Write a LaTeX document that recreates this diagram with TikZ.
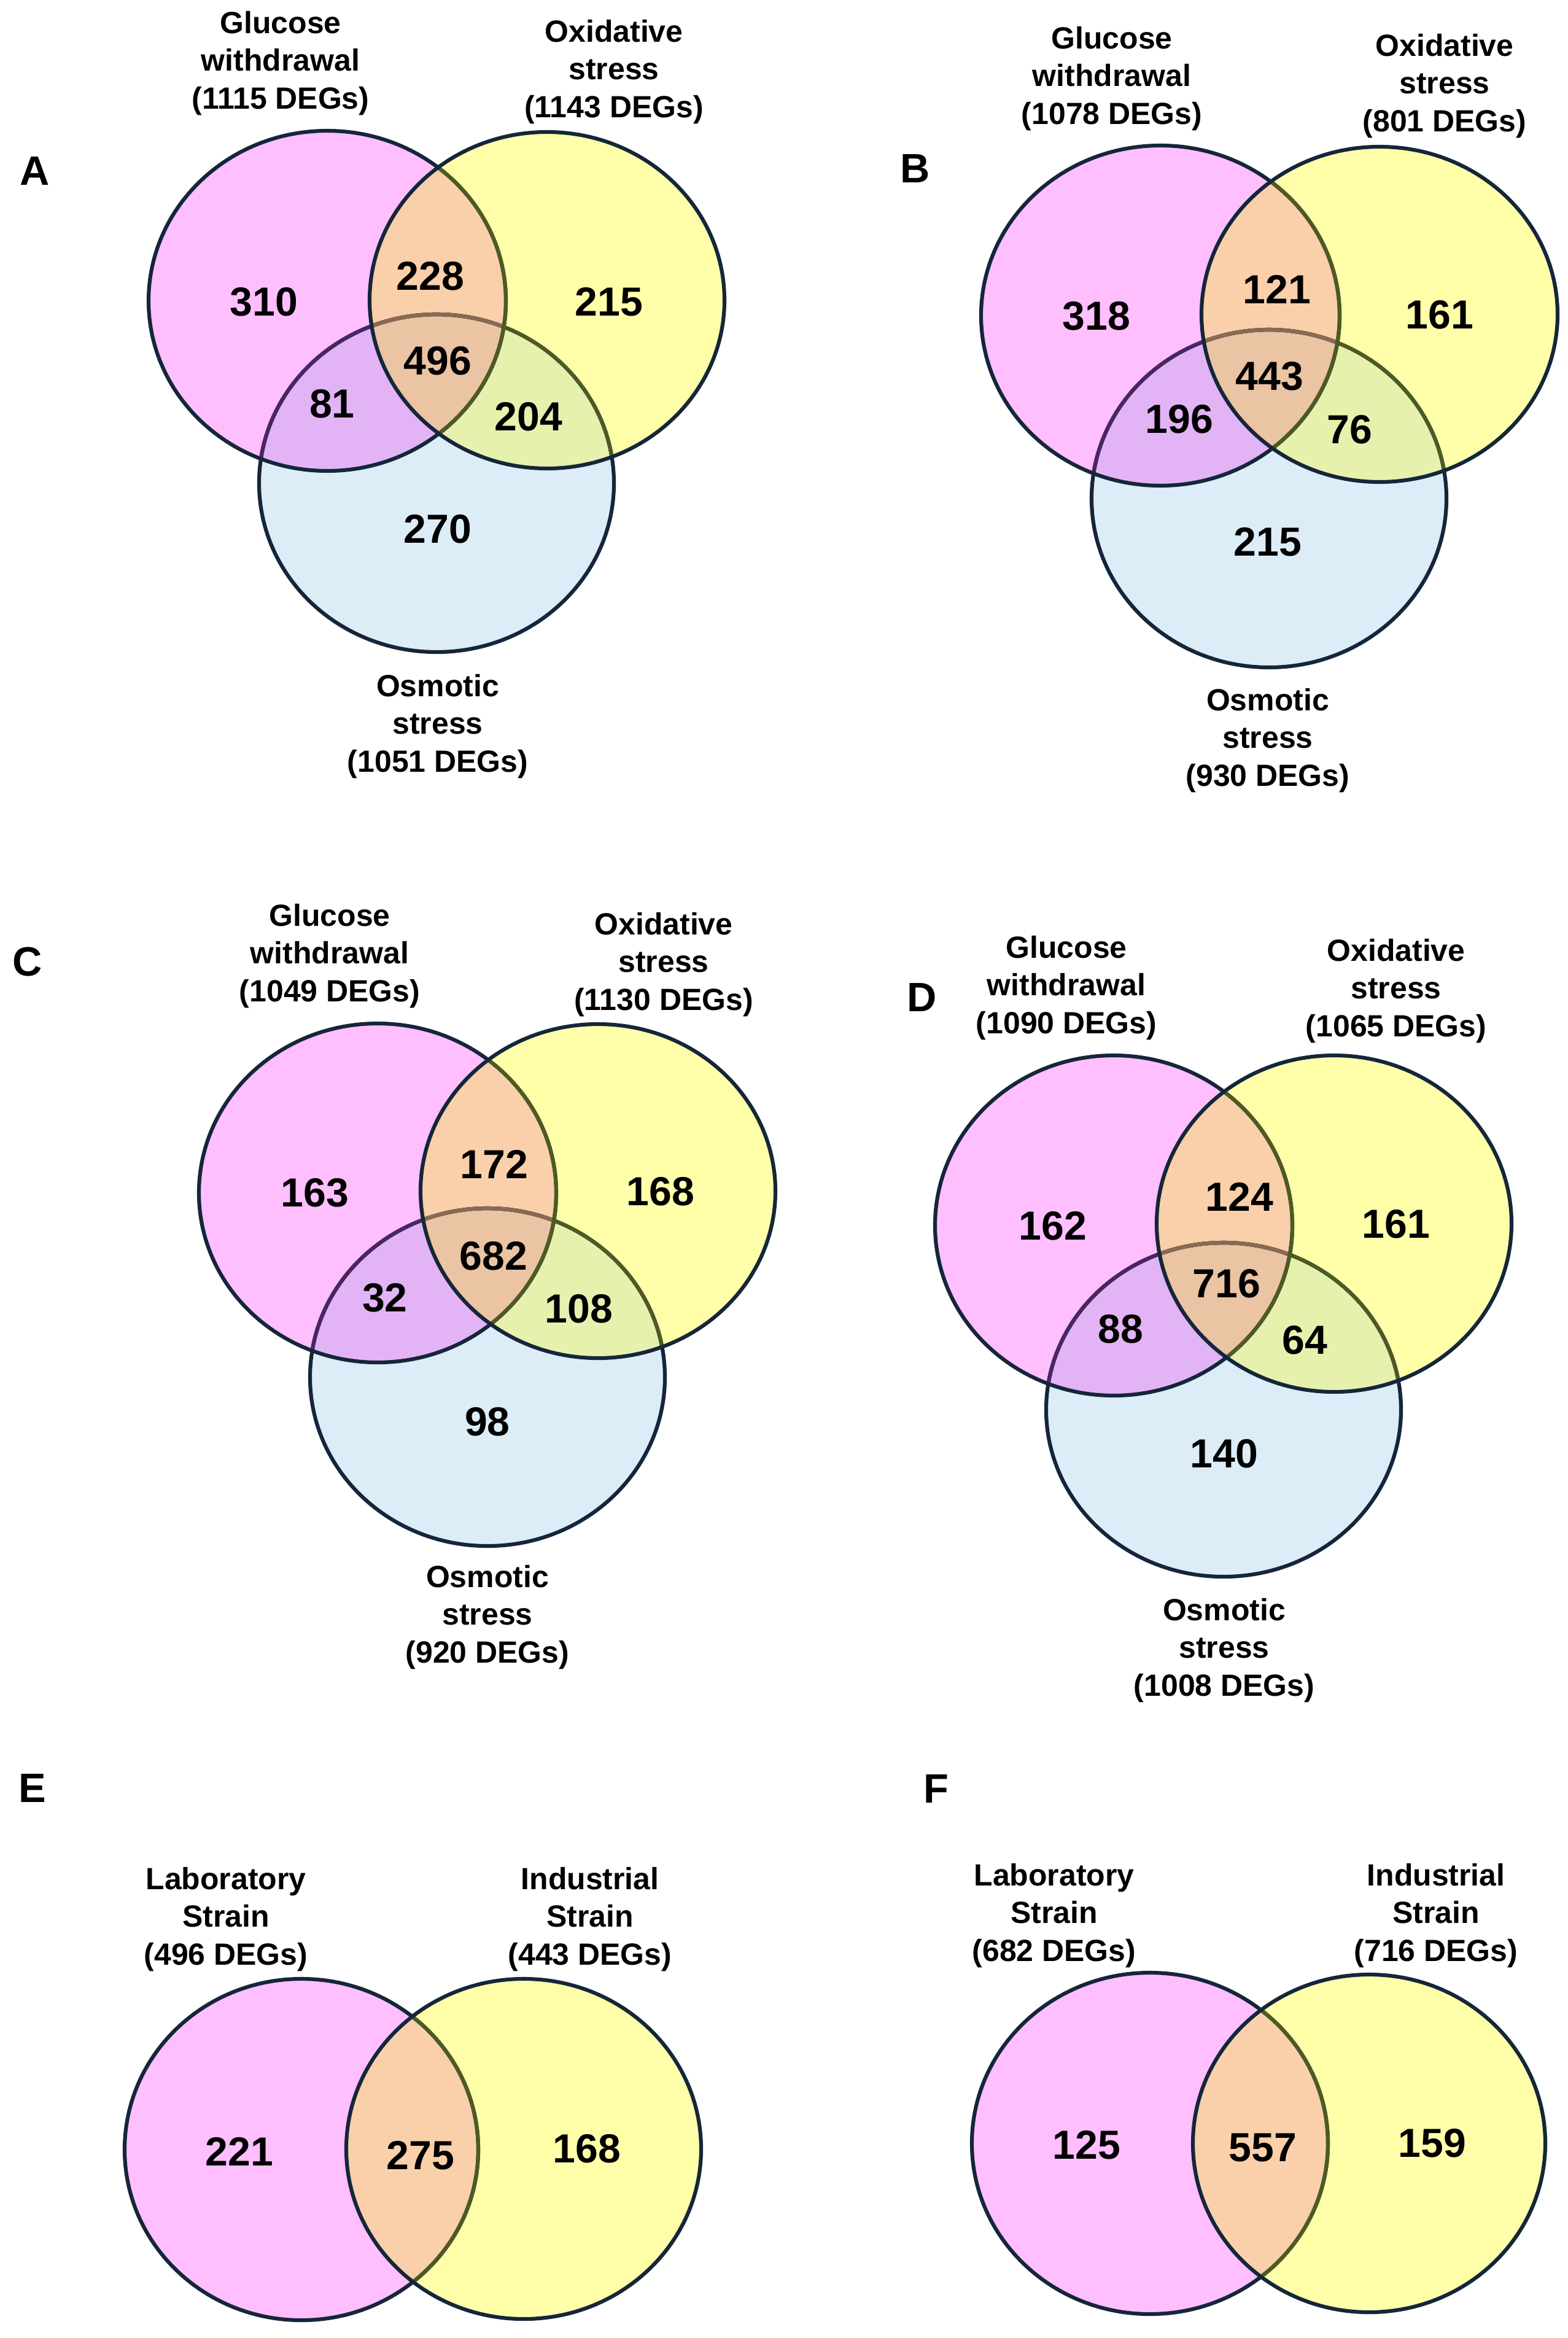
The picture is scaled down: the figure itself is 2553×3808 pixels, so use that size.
\documentclass[tikz,border=0pt]{standalone}
\usepackage{fontspec}
\setmainfont{Liberation Sans}
\definecolor{vpink}{HTML}{FFBFFF}
\definecolor{vyellow}{HTML}{FFFFAA}
\definecolor{vblue}{HTML}{DCEDF8}
\definecolor{vpy}{HTML}{F9D0AA}
\definecolor{vpb}{HTML}{E2B4F5}
\definecolor{vyb}{HTML}{E6F1AE}
\definecolor{vpyb}{HTML}{EBC4A4}
\definecolor{lnnavy}{HTML}{15263A}
\definecolor{lnolive}{HTML}{4E5A24}
\definecolor{lnpurple}{HTML}{4A2565}
\definecolor{lnbrown}{HTML}{8A6A55}
\tikzset{
  lab/.style={font=\bfseries\fontsize{14.2}{17.4}\selectfont, align=center, inner sep=0pt},
  num/.style={font=\bfseries\fontsize{18.8}{20}\selectfont, inner sep=0pt},
  panel/.style={font=\bfseries\fontsize{19}{20}\selectfont, inner sep=0pt},
  vline/.style={draw=lnnavy, line width=1.75pt},
}
% #1 pink, #2 yellow, #3 blue
\newcommand{\vennthree}[3]{%
  \fill[vblue] #3; \fill[vpink] #1; \fill[vyellow] #2;
  \begin{scope}\clip #1; \fill[vpy] #2; \end{scope}
  \begin{scope}\clip #1; \fill[vpb] #3; \end{scope}
  \begin{scope}\clip #2; \fill[vyb] #3; \end{scope}
  \begin{scope}\clip #1; \clip #2; \fill[vpyb] #3; \end{scope}
  \draw[vline] #3;
  \begin{scope}\clip #1; \draw[vline, draw=lnpurple] #3; \end{scope}
  \begin{scope}\clip #2; \draw[vline, draw=lnolive] #3; \end{scope}
  \begin{scope}\clip #1; \clip #2; \draw[vline, draw=lnbrown] #3; \end{scope}
  \draw[vline] #1;
  \begin{scope}\clip #2; \draw[vline, draw=lnolive] #1; \end{scope}
  \draw[vline] #2;
}
\newcommand{\venntwo}[2]{%
  \fill[vpink] #1; \fill[vyellow] #2;
  \begin{scope}\clip #1; \fill[vpy] #2; \end{scope}
  \draw[vline] #1;
  \begin{scope}\clip #2; \draw[vline, draw=lnolive] #1; \end{scope}
  \draw[vline] #2;
}
\begin{document}
\begin{tikzpicture}[x=0.01cm, y=-0.01cm]
\path[use as bounding box, fill=white] (0,0) rectangle (2553,3808);

% ---------- Panel A ----------
\vennthree{(533,490) ellipse [x radius=291, y radius=277]}
          {(891,489) ellipse [x radius=289, y radius=274]}
          {(711,787) ellipse [x radius=289, y radius=275]}
\node[panel] (pA) at (57,279) {A};
\node[lab] (gA) at (457,103) {Glucose\\withdrawal\\(1115 DEGs)};
\node[lab] (oA) at (1000,117) {Oxidative\\stress\\(1143 DEGs)};
\node[lab] (sA) at (713,1183) {Osmotic\\stress\\(1051 DEGs)};
\node[num] (a1) at (430,492) {310};
\node[num] (a2) at (701,450) {228};
\node[num] (a3) at (992,492) {215};
\node[num] (a4) at (713,588) {496};
\node[num] (a5) at (541,658) {81};
\node[num] (a6) at (861,679) {204};
\node[num] (a7) at (713,862) {270};

% ---------- Panel B ----------
\vennthree{(1890,514) ellipse [x radius=292, y radius=277]}
          {(2247,512) ellipse [x radius=290, y radius=273]}
          {(2067,812) ellipse [x radius=289, y radius=275]}
\node[panel] (pB) at (1491,275) {B};
\node[lab] (gB) at (1811,128) {Glucose\\withdrawal\\(1078 DEGs)};
\node[lab] (oB) at (2353,140) {Oxidative\\stress\\(801 DEGs)};
\node[lab] (sB) at (2065,1206) {Osmotic\\stress\\(930 DEGs)};
\node[num] (b1) at (1786,515) {318};
\node[num] (b2) at (2080,471) {121};
\node[num] (b3) at (2345,513) {161};
\node[num] (b4) at (2068,613) {443};
\node[num] (b5) at (1921,683) {196};
\node[num] (b6) at (2198,700) {76};
\node[num] (b7) at (2065,883) {215};

% ---------- Panel C ----------
\vennthree{(615,1943) ellipse [x radius=291, y radius=276]}
          {(974,1940) ellipse [x radius=289, y radius=272]}
          {(794,2243) ellipse [x radius=289, y radius=275]}
\node[panel] (pC) at (45,1566) {C};
\node[lab] (gC) at (537,1557) {Glucose\\withdrawal\\(1049 DEGs)};
\node[lab] (oC) at (1081,1571) {Oxidative\\stress\\(1130 DEGs)};
\node[lab] (sC) at (794,2634) {Osmotic\\stress\\(920 DEGs)};
\node[num] (c1) at (513,1943) {163};
\node[num] (c2) at (805,1896) {172};
\node[num] (c3) at (1076,1941) {168};
\node[num] (c4) at (804,2046) {682};
\node[num] (c5) at (627,2114) {32};
\node[num] (c6) at (943,2132) {108};
\node[num] (c7) at (794,2316) {98};

% ---------- Panel D ----------
\vennthree{(1814,1996) ellipse [x radius=291, y radius=277]}
          {(2173,1993) ellipse [x radius=289, y radius=274]}
          {(1993,2296) ellipse [x radius=289, y radius=272]}
\node[panel] (pD) at (1502,1624) {D};
\node[lab] (gD) at (1737,1609) {Glucose\\withdrawal\\(1090 DEGs)};
\node[lab] (oD) at (2274,1614) {Oxidative\\stress\\(1065 DEGs)};
\node[lab] (sD) at (1994,2688) {Osmotic\\stress\\(1008 DEGs)};
\node[num] (d1) at (1715,1997) {162};
\node[num] (d2) at (2019,1949) {124};
\node[num] (d3) at (2274,1994) {161};
\node[num] (d4) at (1998,2091) {716};
\node[num] (d5) at (1825,2165) {88};
\node[num] (d6) at (2125,2183) {64};
\node[num] (d7) at (1994,2368) {140};

% ---------- Panel E ----------
\venntwo{(491,3501) ellipse [x radius=288, y radius=278]}
        {(853,3500) ellipse [x radius=289, y radius=277]}
\node[panel] (pE) at (53,2912) {E};
\node[lab] (lE) at (368,3126) {Laboratory\\Strain\\(496 DEGs)};
\node[lab] (iE) at (961,3126) {Industrial\\Strain\\(443 DEGs)};
\node[num] (e1) at (390,3504) {221};
\node[num] (e2) at (685,3511) {275};
\node[num] (e3) at (956,3500) {168};

% ---------- Panel F ----------
\venntwo{(1873,3491) ellipse [x radius=290, y radius=278]}
        {(2230,3491) ellipse [x radius=287, y radius=275]}
\node[panel] (pF) at (1525,2913) {F};
\node[lab] (lF) at (1717,3120) {Laboratory\\Strain\\(682 DEGs)};
\node[lab] (iF) at (2339,3120) {Industrial\\Strain\\(716 DEGs)};
\node[num] (f1) at (1770,3494) {125};
\node[num] (f2) at (2057,3498) {557};
\node[num] (f3) at (2333,3491) {159};
\end{tikzpicture}
\end{document}
